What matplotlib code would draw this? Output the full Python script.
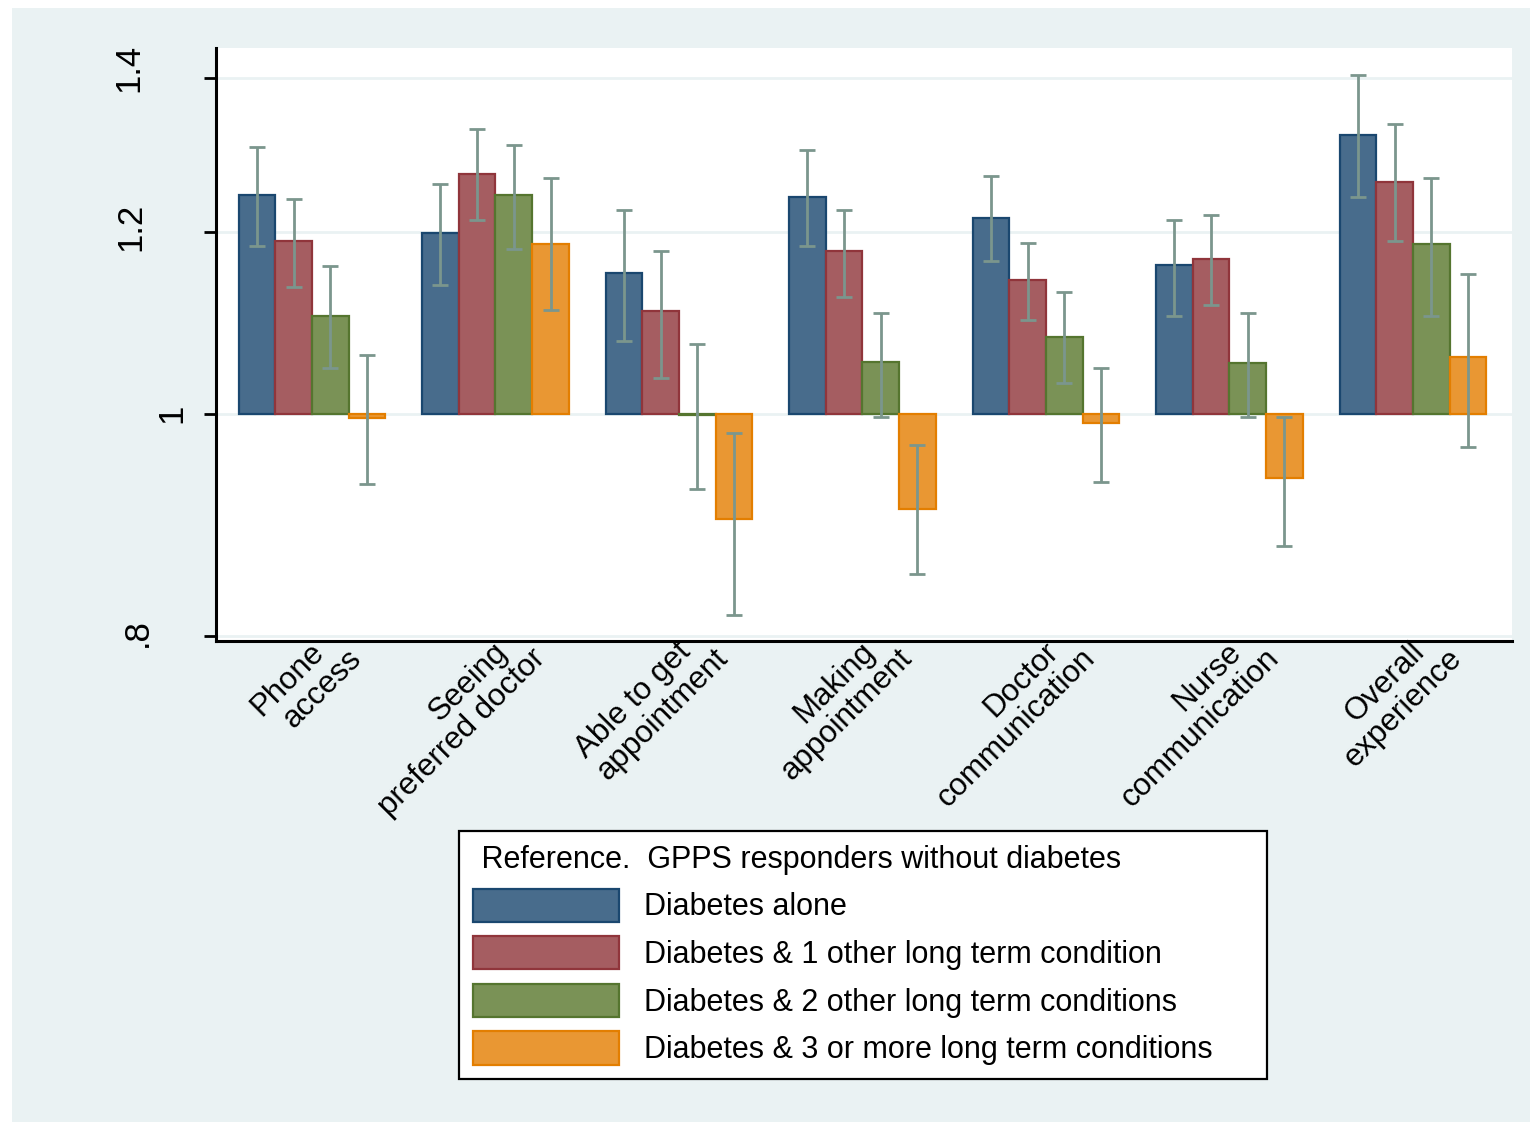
import matplotlib.pyplot as plt
import matplotlib.transforms as mtransforms
from matplotlib.patches import Rectangle
import numpy as np

plt.rcParams['font.family'] = ['Liberation Sans', 'DejaVu Sans']

categories = ["Phone\naccess", "Seeing\npreferred doctor", "Able to get\nappointment",
              "Making\nappointment", "Doctor\ncommunication", "Nurse\ncommunication",
              "Overall\nexperience"]

series_names = ["Diabetes alone",
                "Diabetes & 1 other long term condition",
                "Diabetes & 2 other long term conditions",
                "Diabetes & 3 or more long term conditions"]

alone = [1.245, 1.198, 1.152, 1.243, 1.217, 1.161, 1.322]
alone_lo = [1.183, 1.138, 1.075, 1.183, 1.165, 1.103, 1.243]
alone_hi = [1.306, 1.259, 1.227, 1.303, 1.269, 1.214, 1.404]

one = [1.189, 1.272, 1.108, 1.177, 1.143, 1.168, 1.261]
one_lo = [1.135, 1.214, 1.036, 1.124, 1.098, 1.115, 1.189]
one_hi = [1.240, 1.330, 1.177, 1.227, 1.187, 1.221, 1.337]

two = [1.103, 1.245, 0.999, 1.053, 1.080, 1.052, 1.186]
two_lo = [1.047, 1.180, 0.927, 0.997, 1.031, 0.997, 1.103]
two_hi = [1.159, 1.309, 1.072, 1.106, 1.130, 1.106, 1.266]

three = [0.996, 1.186, 0.900, 0.909, 0.991, 0.937, 1.058]
three_lo = [0.932, 1.109, 0.817, 0.851, 0.934, 0.876, 0.967]
three_hi = [1.061, 1.266, 0.981, 0.969, 1.047, 0.997, 1.150]

yticks = [0.8, 1.0, 1.2, 1.4]
ytick_labels = [".8", "1", "1.2", "1.4"]

values = [alone, one, two, three]
lows = [alone_lo, one_lo, two_lo, three_lo]
highs = [alone_hi, one_hi, two_hi, three_hi]

fills = ["#486c8c", "#a55d61", "#7a9256", "#e99733"]
edges = ["#1a476f", "#90353b", "#55752f", "#e37e00"]
ci_color = "#7b968d"
bg = "#eaf2f3"

fig = plt.figure(figsize=(15.38, 11.25), dpi=100, facecolor="white")
fig.patches.append(Rectangle((12 / 1538, 3 / 1125), 1518 / 1538, 1114 / 1125,
                             transform=fig.transFigure, facecolor=bg,
                             edgecolor="none", zorder=-10))
ax = fig.add_axes([216 / 1538, 1 - 641 / 1125, 1296 / 1538, 593 / 1125])
ax.set_facecolor("white")

x = np.arange(len(categories))
width = 0.2
offsets = [-0.3, -0.1, 0.1, 0.3]
handles = []
for k in range(4):
    v = np.array(values[k])
    lo = np.array(lows[k])
    hi = np.array(highs[k])
    b = ax.bar(x + offsets[k], v - 1, bottom=1, width=width, color=fills[k],
               edgecolor=edges[k], linewidth=1.6, zorder=3, label=series_names[k])
    handles.append(b)
    ax.errorbar(x + offsets[k], v, yerr=[v - lo, hi - v], fmt="none",
                ecolor=ci_color, elinewidth=2.0, capsize=6, capthick=2.0, zorder=4)

ax.set_yscale("log")
ax.set_ylim(0.796, 1.443)
ax.set_xlim(-0.523, 6.54)
ax.yaxis.set_minor_locator(plt.NullLocator())
ax.set_yticks(yticks)
ax.set_yticklabels(ytick_labels, rotation=90, fontsize=25, va="center")
ax.tick_params(axis="y", length=9, width=2, pad=42)
ax.grid(axis="y", color=bg, linewidth=2, zorder=0)
ax.set_axisbelow(True)

# Stata-like placement of the rotated y labels (pixel nudges)
nudge = {"1.4": (0, 10), "1.2": (2, 5), "1": (43, 0), ".8": (9, 3)}
for lab in ax.get_yticklabels():
    dx, dy = nudge.get(lab.get_text(), (0, 0))
    lab.set_transform(lab.get_transform() +
                      mtransforms.ScaledTranslation(dx / 100, dy / 100, fig.dpi_scale_trans))

# x labels: each line rotated on its own, second line shifted sideways
ax.set_xticks(x)
ax.set_xticklabels([""] * len(categories))
ax.tick_params(axis="x", length=0)
for i, cat in enumerate(categories):
    first, second = cat.split("\n")
    ax.annotate(first, xy=(i, 0), xycoords=ax.get_xaxis_transform(),
                xytext=(9.5, -8.5), textcoords="offset points", rotation=45,
                ha="right", va="baseline", rotation_mode="anchor", fontsize=22.5,
                annotation_clip=False)
    ax.annotate(second, xy=(i, 0), xycoords=ax.get_xaxis_transform(),
                xytext=(36.5, -13.5), textcoords="offset points", rotation=45,
                ha="right", va="baseline", rotation_mode="anchor", fontsize=22.5,
                annotation_clip=False)

for s in ["top", "right"]:
    ax.spines[s].set_visible(False)
for s in ["left", "bottom"]:
    ax.spines[s].set_linewidth(2.2)

leg = fig.legend(handles=handles, loc="upper left",
                 bbox_to_anchor=(459 / 1538, 1 - 831 / 1125 - 0.01, 808 / 1538, 0.01),
                 mode="expand", borderaxespad=0, fontsize=22,
                 title=" Reference.  GPPS responders without diabetes",
                 title_fontsize=22, alignment="left", fancybox=False,
                 edgecolor="black", framealpha=1, handlelength=4.8,
                 handleheight=1.3, handletextpad=0.8, labelspacing=0.45,
                 borderpad=0.45)
leg.get_frame().set_linewidth(1.6)

fig.savefig("out.png", dpi=100, facecolor="white")
